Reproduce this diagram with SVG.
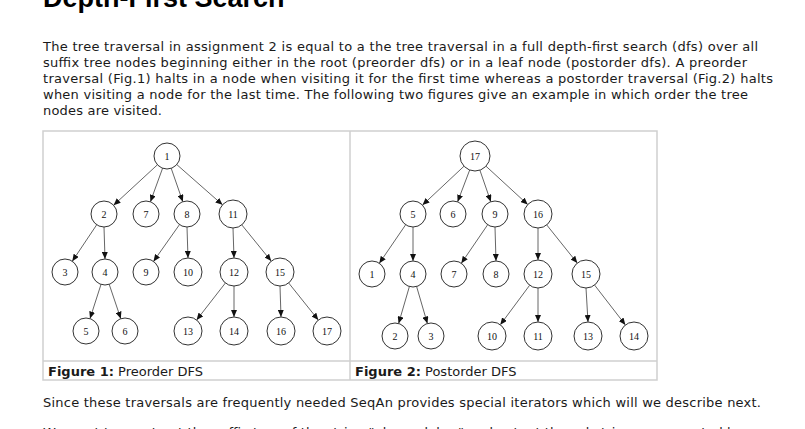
<svg xmlns="http://www.w3.org/2000/svg" width="805" height="429" viewBox="0 0 805 429">
<style>
.title{font-family:"Liberation Sans",Arial,sans-serif;font-weight:bold;font-size:27px;fill:#000}
.body{font-family:"DejaVu Sans",Verdana,sans-serif;font-size:13px;fill:#1a1a1a}
.b{font-weight:bold}
.node circle{fill:#fff;stroke:#333;stroke-width:1}
.node text{font-family:"Liberation Serif","Times New Roman",serif;font-size:10px;fill:#111;text-anchor:middle}
.edges line{stroke:#555;stroke-width:0.9;marker-end:url(#arr)}
.frame{fill:none;stroke:#cfcfcf;stroke-width:1.5}
</style>
<defs>
<marker id="arr" markerUnits="userSpaceOnUse" markerWidth="7" markerHeight="6" refX="7" refY="3" orient="auto">
<path d="M0,0 L7,3 L0,6 z" fill="#111"/>
</marker>
</defs>
<rect width="805" height="429" fill="#fff"/>
<text class="title" x="43" y="7">Depth-First Search</text>
<g class="body">
<text x="43" y="51" textLength="715" lengthAdjust="spacing">The tree traversal in assignment 2 is equal to a the tree traversal in a full depth-first search (dfs) over all</text>
<text x="43" y="67" textLength="704" lengthAdjust="spacing">suffix tree nodes beginning either in the root (preorder dfs) or in a leaf node (postorder dfs). A preorder</text>
<text x="43" y="83" textLength="730" lengthAdjust="spacing">traversal (Fig.1) halts in a node when visiting it for the first time whereas a postorder traversal (Fig.2) halts</text>
<text x="43" y="99" textLength="705" lengthAdjust="spacing">when visiting a node for the last time. The following two figures give an example in which order the tree</text>
<text x="43" y="115" textLength="119" lengthAdjust="spacing">nodes are visited.</text>
</g>
<g id="figure-table">
<rect class="frame" x="43" y="131" width="614" height="249"/>
<line class="frame" x1="350" y1="131" x2="350" y2="380"/>
<line class="frame" x1="43" y1="361" x2="657" y2="361"/>
<text class="body" x="48" y="376"><tspan class="b">Figure 1:</tspan> Preorder DFS</text>
<text class="body" x="355" y="376"><tspan class="b">Figure 2:</tspan> Postorder DFS</text>
</g>
<g class="edges" id="connectors">
<line x1="157.4" y1="164.8" x2="113.6" y2="205.2"/>
<line x1="162.6" y1="168.2" x2="150.4" y2="201.8"/>
<line x1="171.2" y1="168.3" x2="182.8" y2="201.7"/>
<line x1="176.8" y1="164.6" x2="222.5" y2="204.8"/>
<line x1="96.7" y1="224.8" x2="72.3" y2="261.2"/>
<line x1="104" y1="227" x2="105" y2="259"/>
<line x1="179.5" y1="224.6" x2="153.5" y2="261.4"/>
<line x1="187" y1="227" x2="188" y2="258"/>
<line x1="233" y1="228" x2="234" y2="258"/>
<line x1="241.8" y1="224.9" x2="271.2" y2="261.1"/>
<line x1="101" y1="284.4" x2="90" y2="318.6"/>
<line x1="109.2" y1="284.3" x2="120.8" y2="318.7"/>
<line x1="225.4" y1="283" x2="196.6" y2="320"/>
<line x1="234" y1="286" x2="234" y2="317"/>
<line x1="280" y1="286" x2="281" y2="317"/>
<line x1="288.7" y1="283" x2="318.3" y2="320"/>
<line x1="464" y1="166.2" x2="422.5" y2="205.1"/>
<line x1="469.7" y1="170" x2="457.6" y2="201.8"/>
<line x1="479.9" y1="170.2" x2="490.8" y2="201.7"/>
<line x1="486" y1="166.2" x2="527.7" y2="204.5"/>
<line x1="405.7" y1="224.7" x2="379.3" y2="263.3"/>
<line x1="413" y1="227" x2="413" y2="261"/>
<line x1="487.7" y1="224.7" x2="461.3" y2="263.3"/>
<line x1="495" y1="227" x2="496" y2="261"/>
<line x1="538" y1="228" x2="538" y2="260"/>
<line x1="546.7" y1="224.9" x2="577.3" y2="263.1"/>
<line x1="409.4" y1="286.5" x2="398.6" y2="323.5"/>
<line x1="416.6" y1="286.5" x2="427.4" y2="323.5"/>
<line x1="529.7" y1="285.2" x2="500.3" y2="324.8"/>
<line x1="538" y1="288" x2="538" y2="322"/>
<line x1="586" y1="288" x2="588" y2="322"/>
<line x1="594.6" y1="285.1" x2="625.4" y2="324.9"/>
</g>
<g id="f1-n1" class="node"><circle cx="167" cy="156" r="13"/><text x="167" y="159.5">1</text></g>
<g id="f1-n2" class="node"><circle cx="104" cy="214" r="13"/><text x="104" y="217.5">2</text></g>
<g id="f1-n7" class="node"><circle cx="146" cy="214" r="13"/><text x="146" y="217.5">7</text></g>
<g id="f1-n8" class="node"><circle cx="187" cy="214" r="13"/><text x="187" y="217.5">8</text></g>
<g id="f1-n11" class="node"><circle cx="233" cy="214" r="14"/><text x="233" y="217.5">11</text></g>
<g id="f1-n3" class="node"><circle cx="65" cy="272" r="13"/><text x="65" y="275.5">3</text></g>
<g id="f1-n4" class="node"><circle cx="105" cy="272" r="13"/><text x="105" y="275.5">4</text></g>
<g id="f1-n9" class="node"><circle cx="146" cy="272" r="13"/><text x="146" y="275.5">9</text></g>
<g id="f1-n10" class="node"><circle cx="188" cy="272" r="14"/><text x="188" y="275.5">10</text></g>
<g id="f1-n12" class="node"><circle cx="234" cy="272" r="14"/><text x="234" y="275.5">12</text></g>
<g id="f1-n15" class="node"><circle cx="280" cy="272" r="14"/><text x="280" y="275.5">15</text></g>
<g id="f1-n5" class="node"><circle cx="86" cy="331" r="13"/><text x="86" y="334.5">5</text></g>
<g id="f1-n6" class="node"><circle cx="125" cy="331" r="13"/><text x="125" y="334.5">6</text></g>
<g id="f1-n13" class="node"><circle cx="188" cy="331" r="14"/><text x="188" y="334.5">13</text></g>
<g id="f1-n14" class="node"><circle cx="234" cy="331" r="14"/><text x="234" y="334.5">14</text></g>
<g id="f1-n16" class="node"><circle cx="281" cy="331" r="14"/><text x="281" y="334.5">16</text></g>
<g id="f1-n17" class="node"><circle cx="327" cy="331" r="14"/><text x="327" y="334.5">17</text></g>
<g id="f2-n17" class="node"><circle cx="475" cy="156" r="15"/><text x="475" y="159.5">17</text></g>
<g id="f2-n5" class="node"><circle cx="413" cy="214" r="13"/><text x="413" y="217.5">5</text></g>
<g id="f2-n6" class="node"><circle cx="453" cy="214" r="13"/><text x="453" y="217.5">6</text></g>
<g id="f2-n9" class="node"><circle cx="495" cy="214" r="13"/><text x="495" y="217.5">9</text></g>
<g id="f2-n16" class="node"><circle cx="538" cy="214" r="14"/><text x="538" y="217.5">16</text></g>
<g id="f2-n1" class="node"><circle cx="372" cy="274" r="13"/><text x="372" y="277.5">1</text></g>
<g id="f2-n4" class="node"><circle cx="413" cy="274" r="13"/><text x="413" y="277.5">4</text></g>
<g id="f2-n7" class="node"><circle cx="454" cy="274" r="13"/><text x="454" y="277.5">7</text></g>
<g id="f2-n8" class="node"><circle cx="496" cy="274" r="13"/><text x="496" y="277.5">8</text></g>
<g id="f2-n12" class="node"><circle cx="538" cy="274" r="14"/><text x="538" y="277.5">12</text></g>
<g id="f2-n15" class="node"><circle cx="586" cy="274" r="14"/><text x="586" y="277.5">15</text></g>
<g id="f2-n2" class="node"><circle cx="395" cy="336" r="13"/><text x="395" y="339.5">2</text></g>
<g id="f2-n3" class="node"><circle cx="431" cy="336" r="13"/><text x="431" y="339.5">3</text></g>
<g id="f2-n10" class="node"><circle cx="492" cy="336" r="14"/><text x="492" y="339.5">10</text></g>
<g id="f2-n11" class="node"><circle cx="538" cy="336" r="14"/><text x="538" y="339.5">11</text></g>
<g id="f2-n13" class="node"><circle cx="588" cy="336" r="14"/><text x="588" y="339.5">13</text></g>
<g id="f2-n14" class="node"><circle cx="634" cy="336" r="14"/><text x="634" y="339.5">14</text></g>
<text class="body" x="43" y="407" textLength="718" lengthAdjust="spacing">Since these traversals are frequently needed SeqAn provides special iterators which will we describe next.</text>
<text class="body" x="43" y="437" textLength="700" lengthAdjust="spacing">We want to construct the suffix tree of the string "abracadabra" and output the substrings represented by</text>
</svg>
